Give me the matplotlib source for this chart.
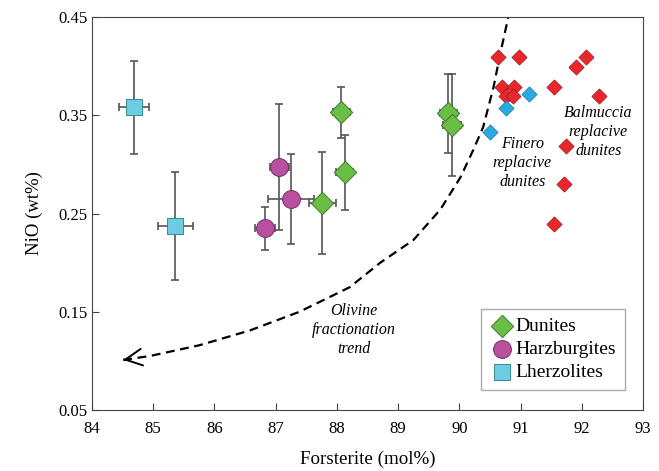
import matplotlib.pyplot as plt

plt.rcParams['font.family'] = ['Liberation Serif', 'DejaVu Serif']

# dunites (with error bars)
dun_x = [87.76, 88.13, 88.07, 89.82, 89.88]
dun_y = [0.261, 0.292, 0.353, 0.352, 0.340]
dun_xerr = [0.22, 0.14, 0.14, 0.14, 0.14]
dun_yerr = [0.052, 0.038, 0.026, 0.040, 0.052]

# harzburgites
hz_x = [86.83, 87.06, 87.25]
hz_y = [0.235, 0.297, 0.265]
hz_xerr = [0.16, 0.15, 0.37]
hz_yerr = [0.022, 0.064, 0.046]

# lherzolites
lz_x = [84.69, 85.36]
lz_y = [0.358, 0.237]
lz_xerr = [0.245, 0.29]
lz_yerr = [0.047, 0.055]

# Balmuccia replacive dunites
bal_x = [90.63, 90.98, 92.07, 91.91, 90.70, 90.90, 91.55, 90.76, 90.88, 92.28, 91.75, 91.71, 91.55]
bal_y = [0.409, 0.409, 0.409, 0.399, 0.379, 0.379, 0.379, 0.370, 0.370, 0.370, 0.319, 0.280, 0.239]

# Finero replacive dunites
fin_x = [91.14, 90.76, 90.50]
fin_y = [0.372, 0.357, 0.333]

# olivine fractionation trend (arrow tip first)
trend_x = [84.51, 84.95, 85.76, 86.58, 87.39, 88.21, 88.71, 89.25, 89.69, 90.02, 90.23,
           90.39, 90.56, 90.67, 90.80]
trend_y = [0.101, 0.105, 0.116, 0.131, 0.150, 0.175, 0.200, 0.223, 0.254, 0.287, 0.315,
           0.338, 0.379, 0.413, 0.450]

fig = plt.figure(figsize=(6.59, 4.71), dpi=100)
ax = fig.add_axes([0.1396, 0.1295, 0.8361, 0.8344])

ecol = '#555555'
ax.plot(trend_x, trend_y, color='black', ls=(0, (4, 2.5)), lw=1.6, zorder=2)
# open arrow head at the low-Fo end
tip = (trend_x[0], trend_y[0])
near = (trend_x[0] + 0.05 * (trend_x[1] - trend_x[0]), trend_y[0] + 0.05 * (trend_y[1] - trend_y[0]))
ax.annotate('', xy=tip, xytext=near,
            arrowprops=dict(arrowstyle='->', color='black', lw=1.4,
                            mutation_scale=30, shrinkA=0, shrinkB=0), zorder=2)

for xs, ys, xe, ye in [(lz_x, lz_y, lz_xerr, lz_yerr), (hz_x, hz_y, hz_xerr, hz_yerr),
                       (dun_x, dun_y, dun_xerr, dun_yerr)]:
    ax.errorbar(xs, ys, xerr=xe, yerr=ye, fmt='none', ecolor=ecol,
                elinewidth=1.2, capsize=3, capthick=1.2, zorder=3)

ax.scatter(dun_x, dun_y, marker='D', s=130, c='#6abd45', edgecolors='#3f7a2a',
           linewidths=0.7, zorder=4, label='Dunites')
ax.scatter(hz_x, hz_y, marker='o', s=165, c='#b8509f', edgecolors='#7a2d68',
           linewidths=0.7, zorder=4, label='Harzburgites')
ax.scatter(lz_x, lz_y, marker='s', s=125, c='#6ccde0', edgecolors='#3a8a9a',
           linewidths=0.7, zorder=4, label='Lherzolites')

ax.scatter(bal_x, bal_y, marker='D', s=60, c='#e8262b', edgecolors='#a01818',
           linewidths=0.5, zorder=4)
ax.scatter(fin_x, fin_y, marker='D', s=60, c='#2aa9e0', edgecolors='#1a7aa5',
           linewidths=0.5, zorder=4)

txt = dict(style='italic', fontsize=11.5, ha='center', va='center', linespacing=1.25)
ax.text(88.28, 0.131, 'Olivine\nfractionation\ntrend', **txt)
ax.text(91.03, 0.301, 'Finero\nreplacive\ndunites', **txt)
ax.text(92.27, 0.333, 'Balmuccia\nreplacive\ndunites', **txt)

ax.set_xlim(84, 93)
ax.set_ylim(0.05, 0.45)
ax.set_xticks(range(84, 94))
ax.set_yticks([0.05, 0.15, 0.25, 0.35, 0.45])
ax.set_yticklabels(['0.05', '0.15', '0.25', '0.35', '0.45'])
ax.tick_params(direction='in', length=5, labelsize=12, colors='#444444',
               labelcolor='black', top=False, right=False)
ax.tick_params(axis='x', pad=8)
for s in ax.spines.values():
    s.set_color('#444444')
ax.set_xlabel('Forsterite (mol%)', fontsize=13.7, labelpad=10)
ax.set_ylabel('NiO (wt%)', fontsize=13.5, labelpad=11)

leg = ax.legend(loc='lower right', bbox_to_anchor=(0.967, 0.051), borderaxespad=0,
                fontsize=14, frameon=True, fancybox=False, handletextpad=0.1,
                borderpad=0.45, labelspacing=0.28, handlelength=1.2)
leg.get_frame().set_edgecolor('#999999')
leg.get_frame().set_linewidth(1.0)

fig.savefig('out.png', dpi=100)
